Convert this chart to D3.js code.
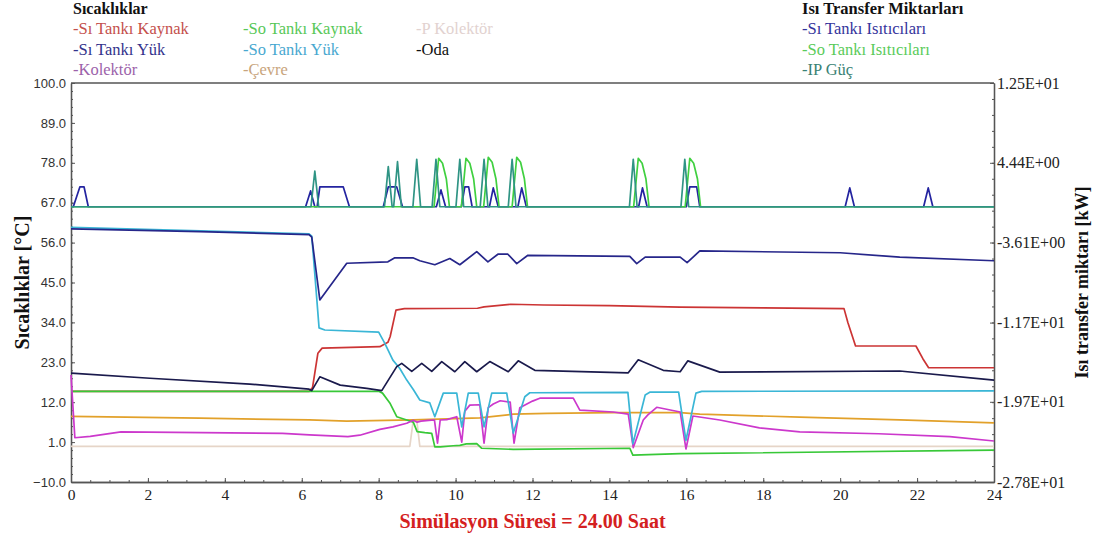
<!DOCTYPE html>
<html>
<head>
<meta charset="utf-8">
<script src="https://cdn.jsdelivr.net/npm/d3@7"></script>
<style>
  body { margin: 0; background: #fff; }
  svg { display: block; }
</style>
</head>
<body>
<script>
// ---- data (time in hours, temperature in °C, heat in kW) ----
const hours = [0, 2, 4, 6, 8, 10, 12, 14, 16, 18, 20, 22, 24];
const tempTicks = [100, 89, 78, 67, 56, 45, 34, 23, 12, 1, -10];
const heatTicks = [12.5, 4.44, -3.61, -11.7, -19.7, -27.8];

const tempNames = ["Sı Tankı Kaynak", "Sı Tankı Yük", "Kolektör", "So Tankı Kaynak", "So Tankı Yük", "Çevre", "P Kolektör", "Oda"];
const heatNames = ["Sı Tankı Isıtıcıları", "So Tankı Isıtıcıları", "IP Güç"];

const siTankKaynak = [[0,15.0],[6.19,15.0],[6.28,16],[6.42,25.5],[6.53,26.9],[8.03,27.3],[8.24,28.5],[8.3,30.1],
  [8.45,37.4],[8.67,37.8],[10.57,37.9],[10.74,38.3],[11.43,39.0],[12.3,38.8],[14.0,38.6],[15.84,38.2],[18.0,38.0],
  [20.1,37.8],[20.2,34],[20.4,27.5],[21.97,27.5],[22.15,24],[22.3,21.5],[24,21.5]];

const siTankYuk = [[0,59.8],[3.35,59.0],[6.19,58.2],[6.26,57.5],[6.47,40.2],[7.17,50.3],[8.24,50.7],[8.42,51.8],
  [8.89,51.8],[9.07,51.0],[9.46,49.9],[9.85,51.6],[10.11,49.9],[10.55,53.5],[10.84,50.7],[11.10,52.8],[11.36,52.8],
  [11.59,50.2],[11.88,52.5],[14.53,52.2],[14.71,50.2],[14.93,52.0],[15.84,52.0],[16.02,50.5],[16.35,53.7],
  [20.0,53.2],[21.55,52.0],[24,51.0]];

const kolektor = [[0,19.5],[0.1,2.2],[0.5,2.6],[1.3,3.8],[5.5,3.4],[6.2,3.0],[7.2,2.5],[7.51,2.9],[8.03,4.5],
  [8.37,5.2],[8.73,6.2],[8.9,7.0],[9.0,6.5],[9.1,6.8],[9.3,7.0],[9.45,7.1],[9.53,0.7],[9.6,7.1],[9.77,7.2],
  [10.03,8.0],[10.16,1.0],[10.24,9.5],[10.37,11.2],[10.63,11.3],[10.74,0.7],[10.85,10.5],[10.98,11.5],
  [11.16,12.4],[11.42,12.0],[11.52,0.7],[11.67,10.5],[12.0,12.3],[12.19,13.1],[13.06,13.1],[13.23,9.8],
  [14.1,9.3],[14.49,8.7],[14.62,-0.5],[14.88,7.1],[15.0,8.5],[15.23,10.6],[15.84,9.3],[15.99,-0.9],[16.17,8.2],
  [16.87,7.1],[17.9,4.9],[18.95,3.8],[21.0,3.3],[22.85,2.5],[24,1.3]];

const soTankKaynak = [[0,15.0],[8.0,15.0],[8.1,14.5],[8.29,11.8],[8.47,8.0],[8.73,7.1],[8.9,6.5],[9.0,3.9],
  [9.2,3.6],[9.38,3.4],[9.46,-0.3],[9.6,-0.3],[9.94,0.0],[10.11,0.1],[10.28,0.5],[10.55,0.6],[10.68,-0.7],
  [11.5,-1.0],[14.53,-0.7],[14.61,-2.6],[15.84,-2.2],[24,-1.2]];

const soTankYuk = [[0,60.2],[6.19,58.4],[6.26,57.8],[6.32,50],[6.45,32.5],[6.6,31.9],[8.0,31.3],[8.16,28.2],
  [8.37,23.6],[8.55,21.3],[8.73,18.1],[8.9,15.5],[9.07,12.6],[9.33,11.8],[9.46,8.0],[9.68,14.5],[10.03,14.5],
  [10.16,5.2],[10.33,14.5],[10.59,14.5],[10.74,5.2],[10.94,14.5],[11.33,14.5],[11.5,3.5],[11.8,13.5],
  [11.93,14.6],[14.48,14.7],[14.61,0.5],[14.93,14.0],[15.06,14.8],[15.8,14.8],[15.99,1.5],[16.25,14.5],
  [16.4,15.0],[24,15.1]];

const cevre = [[0,8.1],[3.35,7.6],[6.2,7.1],[7.17,6.8],[8.89,7.1],[9.77,7.4],[10.63,7.7],[11.5,8.7],
  [12.38,8.9],[14.1,9.1],[15.84,9.1],[16.35,8.7],[18.95,7.9],[21.55,7.1],[24,6.3]];

const pKolektor = [[0,-0.2],[8.81,-0.2],[8.9,7.1],[8.99,7.1],[9.07,-0.2],[24,-0.2]];

const oda = [[0,20.0],[2.05,18.6],[4.65,17.0],[6.19,15.6],[6.26,15.2],[6.47,19.0],[7.0,16.7],[7.69,15.8],
  [8.08,15.2],[8.47,21.8],[8.6,22.7],[8.86,20.5],[9.12,22.7],[9.38,20.5],[9.64,23.2],[9.98,20.4],[10.24,23.2],
  [10.55,20.4],[10.89,23.2],[11.37,20.4],[11.63,23.4],[12.06,20.8],[14.49,20.1],[14.75,23.7],[15.4,20.8],
  [15.84,20.4],[16.04,23.4],[16.87,20.3],[21.55,20.6],[24,18.1]];

const siTankIsitici = [[0,0],[0.06,0],[0.23,2.0],[0.34,2.0],[0.45,0],[6.1,0],[6.23,1.6],[6.34,0],[6.4,0],
  [6.47,2.0],[7.08,2.0],[7.24,0],[8.12,0],[8.25,2.0],[8.47,2.0],[8.62,0],[9.5,0],[9.62,1.7],[9.74,0],
  [10.15,0],[10.24,2.0],[10.34,2.0],[10.43,0],[10.88,0],[10.98,1.9],[11.11,0],[11.62,0],[11.72,1.9],[11.84,0],
  [14.76,0],[14.86,1.9],[14.98,0],[16.0,0],[16.09,2.0],[16.27,2.0],[16.35,0],[20.13,0],[20.25,1.9],[20.37,0],
  [22.17,0],[22.29,1.9],[22.41,0],[24,0]];

const soTankIsitici = [[0,0],[9.44,0],[9.56,4.9],[9.66,4.4],[9.76,2.8],[9.84,0],[10.15,0],[10.27,4.9],
  [10.37,4.4],[10.47,2.8],[10.55,0],[10.73,0],[10.85,5.0],[10.95,4.5],[11.05,2.8],[11.13,0],[11.47,0],
  [11.59,5.0],[11.69,4.5],[11.79,2.8],[11.87,0],[14.63,0],[14.75,4.9],[14.85,4.4],[14.95,2.8],[15.03,0],
  [15.97,0],[16.09,4.9],[16.19,4.4],[16.29,2.8],[16.37,0],[24,0]];

const ipGuc = [[0,0],[6.24,0],[6.34,3.6],[6.44,0],[8.15,0],[8.25,4.05],[8.35,0],[8.39,0],[8.49,4.55],[8.59,0],
  [8.89,0],[8.99,4.8],[9.09,0],[9.39,0],[9.49,4.8],[9.59,0],[10.01,0],[10.11,4.8],[10.21,0],[10.64,0],
  [10.74,4.8],[10.84,0],[11.37,0],[11.47,4.8],[11.57,0],[14.52,0],[14.62,4.8],[14.72,0],[15.86,0],[15.96,4.8],
  [16.06,0],[24,0]];

// ---- layout ----
const width = 1103, height = 540;
const plotLeft = 71, plotRight = 994, plotTop = 83, plotBottom = 482;
const serif = "'Liberation Serif', 'Times New Roman', serif";
const sans = "'Liberation Sans', Arial, sans-serif";

const svg = d3.select("body").append("svg").attr("width", width).attr("height", height);

const x = d3.scaleLinear().domain([0, 24]).range([plotLeft, plotRight]);
const yT = d3.scaleLinear().domain([-10, 100]).range([plotBottom, plotTop]);
const yQ = d3.scaleLinear().domain([-27.8, 12.5]).range([plotBottom, plotTop]);

// legends
const legendTemp = [
  { name: tempNames[0], color: "#c4504c", col: 0, row: 0 },
  { name: tempNames[3], color: "#58c858", col: 1, row: 0 },
  { name: tempNames[6], color: "#e2d2d0", col: 2, row: 0 },
  { name: tempNames[1], color: "#33338c", col: 0, row: 1 },
  { name: tempNames[4], color: "#48a8d0", col: 1, row: 1 },
  { name: tempNames[7], color: "#111111", col: 2, row: 1 },
  { name: tempNames[2], color: "#9c62aa", col: 0, row: 2 },
  { name: tempNames[5], color: "#c8a47c", col: 1, row: 2 },
];
const colX = [73, 243, 416];
const rowY = [34, 55, 75];

svg.append("text").attr("x", 73).attr("y", 14)
  .style("font", `bold 16px ${serif}`).attr("fill", "#111").text("Sıcaklıklar");
svg.append("g").selectAll("text").data(legendTemp).join("text")
  .attr("x", d => colX[d.col]).attr("y", d => rowY[d.row])
  .style("font", `16.5px ${serif}`).attr("fill", d => d.color)
  .text(d => "-" + d.name);

const legendHeat = [
  { name: heatNames[0], color: "#34349c" },
  { name: heatNames[1], color: "#5acb5a" },
  { name: heatNames[2], color: "#3a8274" },
];
svg.append("text").attr("x", 802).attr("y", 14)
  .style("font", `bold 16.5px ${serif}`).attr("fill", "#111").text("Isı Transfer Miktarları");
svg.append("g").selectAll("text").data(legendHeat).join("text")
  .attr("x", 802).attr("y", (d, i) => rowY[i])
  .style("font", `16.5px ${serif}`).attr("fill", d => d.color)
  .text(d => "-" + d.name);

// axes
const expFmt = v => {
  const [m, e] = v.toExponential(2).split("e");
  const n = Math.abs(+e);
  return m + "E" + (+e < 0 ? "-" : "+") + String(n).padStart(2, "0");
};

const axisColor = "#555";

const gLeft = svg.append("g").attr("transform", `translate(${plotLeft},0)`)
  .call(d3.axisLeft(yT).tickValues(tempTicks).tickFormat(d3.format(".1f"))
    .tickSizeInner(-4).tickSizeOuter(0).tickPadding(5));
gLeft.selectAll("text").style("font", `13px ${sans}`).attr("fill", "#333");

svg.append("g").attr("transform", `translate(${plotLeft},0)`)
  .call(d3.axisLeft(yT).tickValues(d3.range(-10, 100, 2.2)).tickFormat("")
    .tickSizeInner(-2).tickSizeOuter(0));

const gRight = svg.append("g").attr("transform", `translate(${plotRight},0)`)
  .call(d3.axisRight(yQ).tickValues(heatTicks).tickFormat(expFmt)
    .tickSizeInner(-4).tickSizeOuter(0).tickPadding(3));
gRight.selectAll("text").style("font", `16px ${serif}`).attr("fill", "#222");

svg.append("g").attr("transform", `translate(${plotRight},0)`)
  .call(d3.axisRight(yQ).tickValues(d3.range(-27.8, 12.5, 40.3 / 25)).tickFormat("")
    .tickSizeInner(-2).tickSizeOuter(0));

const gBottom = svg.append("g").attr("transform", `translate(0,${plotBottom})`)
  .call(d3.axisBottom(x).tickValues(hours).tickSizeInner(-4).tickSizeOuter(0).tickPadding(7));
gBottom.selectAll("text").style("font", `15.5px ${serif}`).attr("fill", "#222");

svg.append("g").attr("transform", `translate(0,${plotBottom})`)
  .call(d3.axisBottom(x).tickValues(d3.range(0, 24, 0.5)).tickFormat("")
    .tickSizeInner(-2).tickSizeOuter(0));

svg.selectAll(".domain").attr("stroke", axisColor).attr("stroke-width", 1.3);
svg.selectAll(".tick line").attr("stroke", axisColor);

svg.append("line").attr("x1", plotLeft).attr("x2", plotRight).attr("y1", plotTop).attr("y2", plotTop)
  .attr("stroke", axisColor).attr("stroke-width", 1.3);

// axis titles
svg.append("text")
  .attr("transform", `translate(22,${(plotTop + plotBottom) / 2}) rotate(-90)`)
  .attr("text-anchor", "middle").attr("dominant-baseline", "central")
  .style("font", `bold 20px ${serif}`).attr("fill", "#111")
  .text("Sıcaklıklar [°C]");

svg.append("text")
  .attr("transform", `translate(1082,${(plotTop + plotBottom) / 2}) rotate(-90)`)
  .attr("text-anchor", "middle").attr("dominant-baseline", "central")
  .style("font", `bold 18px ${serif}`).attr("fill", "#111")
  .text("Isı transfer miktarı [kW]");

svg.append("text")
  .attr("x", (plotLeft + plotRight) / 2).attr("y", 528)
  .attr("text-anchor", "middle")
  .style("font", `bold 20px ${serif}`).attr("fill", "#d42020")
  .text("Simülasyon Süresi = 24.00 Saat");

// series
const lineT = d3.line().x(d => x(d[0])).y(d => yT(d[1]));
const lineQ = d3.line().x(d => x(d[0])).y(d => yQ(d[1]));

const tempSeries = [
  { data: pKolektor, color: "#e6d5c8" },
  { data: cevre, color: "#e2a12a" },
  { data: siTankKaynak, color: "#cc3434" },
  { data: soTankKaynak, color: "#38c838" },
  { data: kolektor, color: "#cc38cc" },
  { data: soTankYuk, color: "#3ab6d6" },
  { data: oda, color: "#1a1a4c" },
  { data: siTankYuk, color: "#26268a" },
];
const heatSeries = [
  { data: siTankIsitici, color: "#2424a0" },
  { data: soTankIsitici, color: "#40d040" },
  { data: ipGuc, color: "#2f9484" },
];

const plot = svg.append("g");
plot.selectAll("path.t").data(tempSeries).join("path").attr("class", "t")
  .attr("d", d => lineT(d.data)).attr("fill", "none")
  .attr("stroke", d => d.color).attr("stroke-width", 1.7).attr("stroke-linejoin", "round");
plot.selectAll("path.q").data(heatSeries).join("path").attr("class", "q")
  .attr("d", d => lineQ(d.data)).attr("fill", "none")
  .attr("stroke", d => d.color).attr("stroke-width", 1.7).attr("stroke-linejoin", "round");
</script>
</body>
</html>
